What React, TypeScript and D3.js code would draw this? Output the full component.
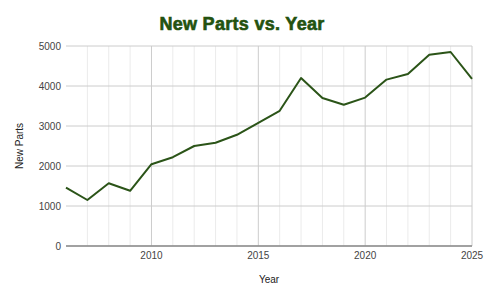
import React from "react";
import * as d3 from "d3";

const years = [2006, 2007, 2008, 2009, 2010, 2011, 2012, 2013, 2014, 2015, 2016, 2017, 2018, 2019, 2020, 2021, 2022, 2023, 2024, 2025];
const newParts = [1460, 1150, 1570, 1380, 2045, 2220, 2500, 2580, 2780, 3080, 3380, 4200, 3700, 3530, 3710, 4160, 4300, 4780, 4850, 4180];
const yTicks = [0, 1000, 2000, 3000, 4000, 5000];
const xMajorTicks = [2010, 2015, 2020, 2025];

const W = 487, H = 301;
const left = 66, right = 472, top = 46, bottom = 246;
const lineColor = "#2b5418";
const font = "Arial, 'Liberation Sans', sans-serif";

export default function App() {
  const x = d3.scaleLinear().domain([2006, 2025]).range([left, right]);
  const y = d3.scaleLinear().domain([0, 5000]).range([bottom, top]);
  const line = d3.line<number>().x((_, i) => x(years[i])).y((d) => y(d));
  const minorYears = d3.range(2007, 2026);
  return (
    <svg width={W} height={H} style={{ position: "absolute", left: 0, top: 0, background: "#fff" }}>
      <text x={242} y={29.5} textAnchor="middle" fontFamily={font} fontWeight="bold" fontSize={18}
        letterSpacing={0.3} fill="#23520f" stroke="#23520f" strokeWidth={0.6}>New Parts vs. Year</text>
      {minorYears.map((yr) => (
        <line key={"v" + yr} x1={x(yr)} x2={x(yr)} y1={top} y2={bottom}
          stroke={xMajorTicks.includes(yr) ? "#cccccc" : "#ebebeb"} strokeWidth={1} />
      ))}
      {yTicks.map((t) => (
        <line key={"h" + t} x1={left} x2={right} y1={y(t)} y2={y(t)} stroke="#cccccc" strokeWidth={1} />
      ))}
      <line x1={left} x2={right} y1={bottom} y2={bottom} stroke="#8a8a8a" strokeWidth={1.5} />
      {yTicks.map((t) => (
        <text key={"yl" + t} x={61} y={y(t) + 3.5} textAnchor="end" fontFamily={font} fontSize={10} fill="#444">{t}</text>
      ))}
      {xMajorTicks.map((t) => (
        <text key={"xl" + t} x={x(t)} y={259} textAnchor="middle" fontFamily={font} fontSize={10} fill="#444">{t}</text>
      ))}
      <path d={line(newParts) || ""} fill="none" stroke={lineColor} strokeWidth={2} strokeLinejoin="round" />
      <text x={(left + right) / 2} y={283} textAnchor="middle" fontFamily={font} fontSize={10} fill="#222">Year</text>
      <text transform={`translate(23,${(top + bottom) / 2}) rotate(-90)`} textAnchor="middle" fontFamily={font} fontSize={10} fill="#222">New Parts</text>
    </svg>
  );
}
